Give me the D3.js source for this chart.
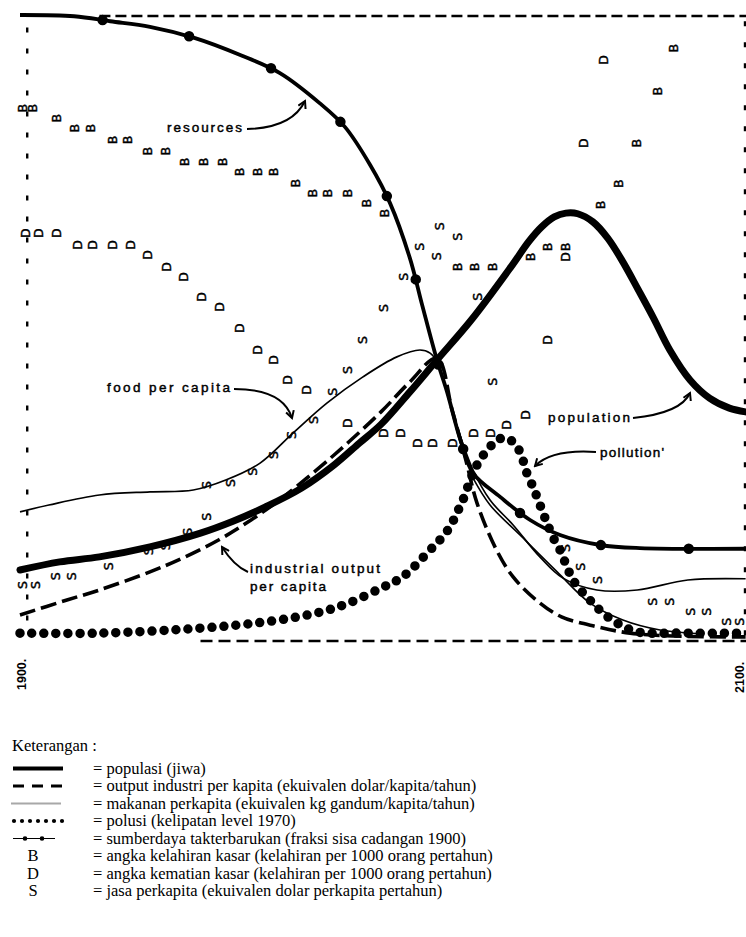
<!DOCTYPE html>
<html>
<head>
<meta charset="utf-8">
<script src="https://cdn.jsdelivr.net/npm/d3@7/dist/d3.min.js"></script>
<style>
  html, body { margin: 0; padding: 0; background: #fff; }
  svg { display: block; }
</style>
</head>
<body>
<svg id="chart" width="746" height="937"></svg>
<script>
// World model standard run, 1900-2100 (values as fraction of plot height)
const population = [[1900,0.112],[1911,0.125],[1922,0.133],[1936,0.149],[1950,0.171],[1959,0.19],[1968,0.213],[1978,0.243],[1987,0.28],[1994,0.315],[2000,0.345],[2008,0.397],[2015.5,0.448],[2025,0.512],[2036,0.597],[2041,0.638],[2044.5,0.661],[2048,0.677],[2051.2,0.683],[2054.5,0.682],[2058.7,0.669],[2062.8,0.643],[2067,0.605],[2071.3,0.56],[2075.5,0.515],[2080,0.464],[2085.6,0.416],[2091,0.387],[2096.5,0.371],[2101,0.365]];
const industrialOutput = [[1900,0.04],[1913,0.064],[1922,0.08],[1936,0.109],[1945,0.131],[1955,0.16],[1964,0.192],[1973,0.229],[1987,0.296],[2000,0.365],[2008,0.413],[2015.5,0.451],[2019.7,0.368],[2023.5,0.288],[2026.6,0.219],[2032,0.144],[2036.6,0.101],[2043,0.064],[2050,0.037],[2060,0.021],[2069,0.011],[2083,0.006],[2101,0.005]];
const foodPerCapita = [[1900,0.205],[1908,0.216],[1922,0.232],[1936,0.237],[1948,0.24],[1957,0.256],[1966.5,0.283],[1975.6,0.331],[1985,0.379],[1995,0.421],[2004.4,0.453],[2010.8,0.464],[2013.6,0.459],[2015.5,0.445],[2020.5,0.352],[2025.5,0.272],[2030.2,0.224],[2036.6,0.184],[2044,0.133],[2050.4,0.099],[2059.8,0.08],[2071,0.08],[2085,0.096],[2101,0.098]];
const resources = [[1900,1.0],[1915,0.998],[1925,0.99],[1936,0.981],[1948.5,0.963],[1961,0.936],[1972,0.907],[1983,0.859],[1990,0.821],[1997,0.76],[2002.5,0.699],[2008,0.611],[2011.4,0.536],[2015.5,0.448],[2018.3,0.397],[2022,0.32],[2025.5,0.267],[2033,0.229],[2041.3,0.192],[2049.6,0.168],[2060.7,0.152],[2071.7,0.147],[2101,0.146]];
const pollution = [[1900,0.011],[1922,0.011],[1950,0.019],[1968,0.029],[1982,0.043],[1991,0.059],[2000,0.083],[2006,0.101],[2013.6,0.144],[2016.3,0.16],[2019.1,0.181],[2021,0.203],[2022.7,0.224],[2025.5,0.267],[2027.4,0.288],[2030.2,0.309],[2032.1,0.32],[2034.9,0.323],[2037.7,0.309],[2039.3,0.288],[2040.4,0.267],[2042.1,0.245],[2043.2,0.229],[2044.9,0.203],[2046,0.187],[2047.6,0.165],[2049.6,0.144],[2051.5,0.117],[2053.2,0.096],[2056,0.075],[2058.7,0.059],[2061.5,0.043],[2065.4,0.027],[2071,0.013],[2083,0.011],[2100,0.011]];
const servicesCurve = [[2025.5,0.259],[2030.2,0.216],[2038.5,0.168],[2048.8,0.109],[2057.9,0.059],[2067,0.032],[2077.3,0.016],[2088.4,0.01]];

// Letter-plotted series: B = birth rate, D = death rate, S = services per capita
const birthRate = [[1900.8,0.851],[1903.6,0.851],[1910.2,0.835],[1915.2,0.819],[1919.4,0.819],[1925.5,0.8],[1929.9,0.8],[1935.2,0.782],[1940.2,0.782],[1945.7,0.765],[1950.7,0.765],[1956,0.765],[1960.9,0.749],[1965.7,0.749],[1970.1,0.749],[1976.2,0.731],[1980.9,0.715],[1985.3,0.715],[1990.6,0.715],[1996.1,0.699],[2001.1,0.683],[2021.1,0.597],[2026,0.597],[2031,0.597],[2041.3,0.613],[2046,0.629],[2051,0.629],[2060.7,0.696],[2065.7,0.73],[2070.9,0.795],[2076.5,0.878],[2080.9,0.947]];
const deathRate = [[1901.4,0.651],[1905,0.651],[1910.2,0.651],[1915.8,0.632],[1920.2,0.632],[1925.5,0.632],[1930.5,0.632],[1935.2,0.616],[1940.7,0.597],[1945.2,0.581],[1950.4,0.549],[1955.4,0.533],[1960.9,0.499],[1965.7,0.464],[1970.1,0.448],[1974.2,0.416],[1979.5,0.4],[1990.6,0.347],[2000.6,0.331],[2005.3,0.331],[2010,0.315],[2014.4,0.315],[2019.9,0.315],[2025.5,0.331],[2030.2,0.331],[2034.9,0.344],[2039.9,0.36],[2046,0.48],[2051,0.613],[2056,0.795],[2061.5,0.928]];
const servicesPerCapita = [[1900.6,0.088],[1904.2,0.088],[1909.7,0.102],[1914.4,0.102],[1924.4,0.118],[1935.5,0.142],[1940.2,0.15],[1946.5,0.173],[1951.8,0.197],[1951.8,0.248],[1958.2,0.251],[1964.5,0.269],[1970.1,0.296],[1975.3,0.328],[1981.2,0.352],[1986.7,0.397],[1990.6,0.432],[1995,0.48],[2000.6,0.531],[2006.1,0.581],[2010.8,0.629],[2015.5,0.614],[2016.3,0.662],[2021.1,0.645],[2026.6,0.549],[2031,0.413],[2051,0.147],[2055.4,0.117],[2060.1,0.096],[2075.3,0.061],[2080,0.061],[2085.6,0.045],[2090.3,0.045],[2095.6,0.029],[2099.2,0.029]];

const yearLabels = ["1900.", "2100."];
const yearTicks = [1900, 2100];

const legendTitle = "Keterangan :";
const legendItems = [
  {key: "population", text: "= populasi (jiwa)"},
  {key: "industry", text: "= output industri per kapita (ekuivalen dolar/kapita/tahun)"},
  {key: "food", text: "= makanan perkapita (ekuivalen kg gandum/kapita/tahun)"},
  {key: "pollution", text: "= polusi (kelipatan level 1970)"},
  {key: "resources", text: "= sumberdaya takterbarukan (fraksi sisa cadangan 1900)"},
  {key: "B", text: "= angka kelahiran kasar (kelahiran per 1000 orang pertahun)"},
  {key: "D", text: "= angka kematian kasar (kelahiran per 1000 orang pertahun)"},
  {key: "S", text: "= jasa perkapita (ekuivalen dolar perkapita pertahun)"}
];

const svg = d3.select("#chart");
const x = d3.scaleLinear().domain([1900, 2100]).range([20, 742]);
const y = d3.scaleLinear().domain([0, 1]).range([640, 15]);

const line = d3.line().x(d => x(d[0])).y(d => y(d[1])).curve(d3.curveCatmullRom.alpha(0.5));

const plot = svg.append("g");

// dashed frame
const frame = plot.append("g").attr("stroke", "#000").attr("fill", "none");
frame.append("line").attr("x1", x(1922)).attr("x2", 746).attr("y1", y(1) + 1).attr("y2", y(1) + 1)
  .attr("stroke-width", 2.6).attr("stroke-dasharray", "11 5");
frame.append("line").attr("x1", x(1902)).attr("x2", x(1902)).attr("y1", y(0.98)).attr("y2", y(0.03))
  .attr("stroke-width", 2.4).attr("stroke-dasharray", "5 16");
frame.append("line").attr("x1", 745).attr("x2", 745).attr("y1", y(0.99)).attr("y2", y(0))
  .attr("stroke-width", 2.4).attr("stroke-dasharray", "5 16");
frame.append("line").attr("x1", x(1950)).attr("x2", 746).attr("y1", y(0) + 1).attr("y2", y(0) + 1)
  .attr("stroke-width", 2.4).attr("stroke-dasharray", "12 6");

// letter series (plotted sideways)
function letters(data, ch) {
  plot.append("g").selectAll("text").data(data).join("text")
    .attr("transform", d => `translate(${x(d[0])},${y(d[1])}) rotate(-90)`)
    .attr("text-anchor", "middle").attr("dy", "0.36em")
    .attr("font-family", "DejaVu Sans, sans-serif").attr("font-size", 12.5)
    .attr("fill", "#000").attr("stroke", "#000").attr("stroke-width", 0.45).text(ch);
}
letters(birthRate, "B");
letters(deathRate, "D");
letters(servicesPerCapita, "S");

// curves
plot.append("path").datum(foodPerCapita).attr("d", line)
  .attr("fill", "none").attr("stroke", "#000").attr("stroke-width", 1.7);
plot.append("path").datum(servicesCurve).attr("d", line)
  .attr("fill", "none").attr("stroke", "#000").attr("stroke-width", 1.6);
plot.append("path").datum(resources).attr("d", line)
  .attr("fill", "none").attr("stroke", "#000").attr("stroke-width", 3.8);
plot.append("path").datum(resources).attr("d", line)
  .attr("fill", "none").attr("stroke", "#000").attr("stroke-width", 10.5)
  .attr("stroke-linecap", "round").attr("stroke-dasharray", "0 88").attr("stroke-dashoffset", 5);
plot.append("path").datum(industrialOutput).attr("d", line)
  .attr("fill", "none").attr("stroke", "#000").attr("stroke-width", 3.6)
  .attr("stroke-dasharray", "16 6");
plot.append("path").datum(population).attr("d", line)
  .attr("fill", "none").attr("stroke", "#000").attr("stroke-width", 7)
  .attr("stroke-linejoin", "round").attr("stroke-linecap", "round");
plot.append("path").datum(pollution).attr("d", line)
  .attr("fill", "none").attr("stroke", "#000").attr("stroke-width", 9.5)
  .attr("stroke-linecap", "round").attr("stroke-dasharray", "0 12");

// curve labels with arrows
const defs = svg.append("defs");
defs.append("marker").attr("id", "arr").attr("viewBox", "0 0 10 10")
  .attr("refX", 8).attr("refY", 5).attr("markerWidth", 5).attr("markerHeight", 5)
  .attr("orient", "auto").attr("markerUnits", "strokeWidth")
  .append("path").attr("d", "M1,1 L8,5 L1,9").attr("fill", "none")
  .attr("stroke", "#000").attr("stroke-width", 2);

const notes = [
  {t: "resources", x: 167, y: 132, w: 75, arrow: "M247,129 Q292,128 305,101"},
  {t: "food per capita", x: 107, y: 392, w: 123, arrow: "M234,389 Q283,389 292,418"},
  {t: "industrial output", x: 250, y: 573, w: 130, arrow: "M248,572 Q234,566 222,547"},
  {t: "per capita", x: 250, y: 591, w: 76},
  {t: "population", x: 548, y: 422, w: 82, arrow: "M633,418 Q681,413 690,393"},
  {t: "pollution'", x: 600, y: 457, w: 64, arrow: "M596,452 Q552,449 535,466"}
];
const ng = plot.append("g");
ng.selectAll("text").data(notes).join("text")
  .attr("x", d => d.x).attr("y", d => d.y)
  .attr("textLength", d => d.w).attr("lengthAdjust", "spacing")
  .attr("font-family", "Liberation Sans, Arial, sans-serif").attr("font-size", 13.5)
  .attr("fill", "#000").attr("stroke", "#000").attr("stroke-width", 0.45)
  .text(d => d.t);
ng.selectAll("path").data(notes.filter(d => d.arrow)).join("path")
  .attr("d", d => d.arrow).attr("fill", "none").attr("stroke", "#000")
  .attr("stroke-width", 2).attr("marker-end", "url(#arr)");

// year labels
plot.append("g").selectAll("text").data(yearTicks).join("text")
  .attr("transform", (d, i) => `translate(${i ? 744 : 26},${i ? 693 : 690}) rotate(-90)`)
  .attr("font-family", "Liberation Sans, Arial, sans-serif").attr("font-size", 12.5)
  .attr("font-weight", "bold").attr("fill", "#000")
  .text((d, i) => yearLabels[i]);

// legend
const lg = svg.append("g").attr("font-family", "Liberation Serif, Times New Roman, serif")
  .attr("font-size", 16.5).attr("fill", "#000");
lg.append("text").attr("x", 12).attr("y", 751).text(legendTitle);
const rowY = i => 768.5 + i * 17.5;
legendItems.forEach((it, i) => {
  const cy = rowY(i);
  const g = lg.append("g");
  if (it.key === "population") {
    g.append("line").attr("x1", 13).attr("x2", 63).attr("y1", cy).attr("y2", cy)
      .attr("stroke", "#000").attr("stroke-width", 4);
  } else if (it.key === "industry") {
    g.append("line").attr("x1", 13).attr("x2", 63).attr("y1", cy).attr("y2", cy)
      .attr("stroke", "#000").attr("stroke-width", 3).attr("stroke-dasharray", "11 8");
  } else if (it.key === "food") {
    g.append("line").attr("x1", 11).attr("x2", 61).attr("y1", cy).attr("y2", cy)
      .attr("stroke", "#a8a8a8").attr("stroke-width", 2);
  } else if (it.key === "pollution") {
    g.selectAll("circle").data(d3.range(7)).join("circle")
      .attr("cx", k => 14 + k * 8).attr("cy", cy).attr("r", 2.1).attr("fill", "#000");
  } else if (it.key === "resources") {
    g.append("line").attr("x1", 13).attr("x2", 55).attr("y1", cy).attr("y2", cy)
      .attr("stroke", "#000").attr("stroke-width", 1);
    g.selectAll("circle").data([25, 42]).join("circle")
      .attr("cx", k => k).attr("cy", cy).attr("r", 2.3).attr("fill", "#000");
  } else {
    g.append("text").attr("x", 33).attr("y", cy + 5).attr("text-anchor", "middle").text(it.key);
  }
  lg.append("text").attr("x", 93).attr("y", cy + 5).text(it.text);
});
</script>
</body>
</html>
